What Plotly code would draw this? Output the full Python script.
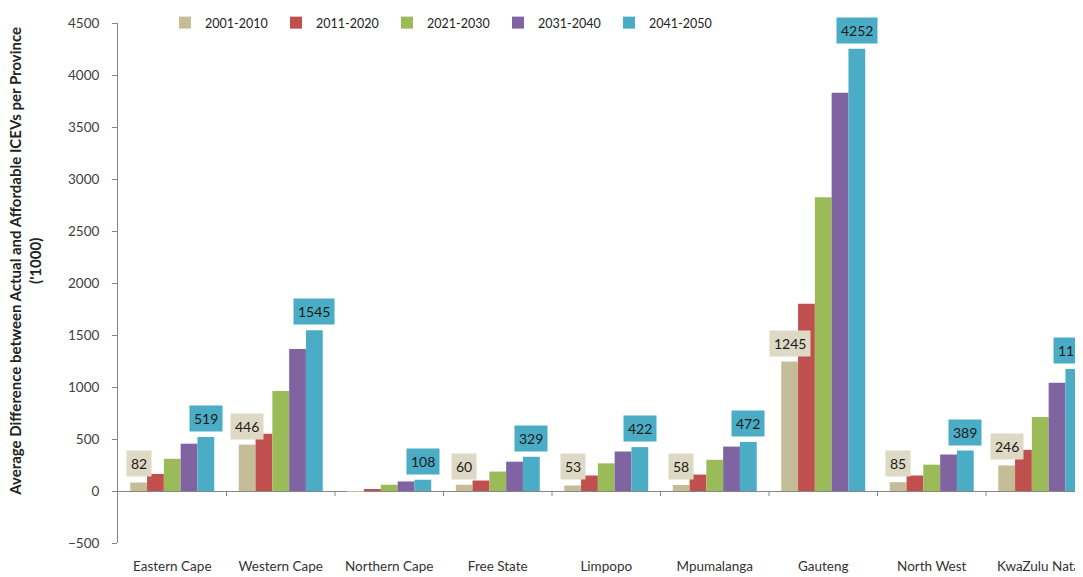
import plotly.graph_objects as go

provinces = ["Eastern Cape", "Western Cape", "Northern Cape", "Free State", "Limpopo",
             "Mpumalanga", "Gauteng", "North West", "KwaZulu Natal"]
periods = ["2001-2010", "2011-2020", "2021-2030", "2031-2040", "2041-2050"]

v_2001_2010 = [82, 446, -5, 60, 53, 58, 1245, 85, 246]
v_2011_2020 = [164, 550, 12, 101, 149, 158, 1800, 149, 396]
v_2021_2030 = [310, 961, 60, 187, 266, 300, 2824, 253, 712]
v_2031_2040 = [455, 1366, 92, 282, 380, 427, 3829, 351, 1041]
v_2041_2050 = [519, 1545, 108, 329, 422, 472, 4252, 389, 1172]

series = [v_2001_2010, v_2011_2020, v_2021_2030, v_2031_2040, v_2041_2050]
colors = ["#C4BD97", "#C0504D", "#9BBB59", "#8064A2", "#4BACC6"]
label_series = {0: "#DDD9C4", 4: "#4BACC6"}   # which series carry boxed value labels

y_ticks = list(range(-500, 4501, 500))

FONT = "Lato, 'Open Sans', sans-serif"
BARGAP = 0.226
OFF = 8                      # page body margin
YOFF = 12                    # observed vertical offset of the figure in the page
W, H = 1083 - OFF, 577 - OFF
ML, MR = 118 - OFF, 0
MT = 20 - YOFF
PH = 527
MB = H - MT - PH
PW = W - ML - MR

fig = go.Figure()
for name, vals, col in zip(periods, series, colors):
    fig.add_trace(go.Bar(name=name, x=provinces, y=vals, marker_color=col,
                         marker_line_width=0))

# value labels (boxed) on first and last series
n = len(series)
bw = (1 - BARGAP) / n
annotations = []
for si, bg in label_series.items():
    off = -(1 - BARGAP) / 2 + (si + 0.5) * bw
    for ci, v in enumerate(series[si]):
        if v <= 0:
            continue
        annotations.append(dict(
            x=ci + off, y=v, xref="x", yref="y", text=str(v), showarrow=False,
            yanchor="bottom", xanchor="center", yshift=5,
            bgcolor=bg, borderpad=4,
            font=dict(family=FONT, size=14, color="#1b1b1b")))

# y-axis title
annotations.append(dict(
    x=(25 - OFF - ML) / PW, y=(H - MB - (262 - YOFF)) / PH,
    xref="paper", yref="paper", showarrow=False, textangle=-90,
    xanchor="center", yanchor="middle",
    text="<b>Average Difference between Actual and Affordable ICEVs per Province<br>('1000)</b>",
    font=dict(family=FONT, size=15, color="#222222")))

# category separator ticks on the zero line
shapes = []
for k in range(1, len(provinces)):
    shapes.append(dict(type="line", xref="x", yref="y", x0=k - 0.5, x1=k - 0.5,
                       ysizemode="pixel", yanchor=0, y0=0, y1=-5,
                       line=dict(color="#868686", width=1)))

fig.update_layout(
    width=W, height=H,
    margin=dict(l=ML, r=MR, t=MT, b=MB),
    paper_bgcolor="white", plot_bgcolor="white",
    barmode="group", bargap=BARGAP, bargroupgap=0,
    font=dict(family=FONT, size=13, color="#333333"),
    legend=dict(orientation="h", x=(165 - OFF - ML) / PW, y=1.0,
                xanchor="left", yanchor="middle",
                entrywidth=66, entrywidthmode="pixels",
                font=dict(family=FONT, size=12.5, color="#222222"),
                bgcolor="rgba(0,0,0,0)"),
    annotations=annotations,
    shapes=shapes,
)
fig.update_xaxes(type="category", range=[-0.5, PW / 108.5 - 0.5],
                 showline=False, showgrid=False, ticks="", zeroline=False,
                 tickfont=dict(family=FONT, size=13.5, color="#333333"),
                 ticklabelstandoff=13, automargin=False)
fig.update_yaxes(range=[-500, 4500], tickvals=y_ticks, showgrid=False,
                 showline=True, linecolor="#868686", linewidth=1,
                 ticks="outside", ticklen=5, tickcolor="#868686",
                 zeroline=True, zerolinecolor="#868686", zerolinewidth=1,
                 tickfont=dict(family=FONT, size=13.5, color="#404040"),
                 ticklabelstandoff=10, automargin=False)

fig.write_html("out.html")
